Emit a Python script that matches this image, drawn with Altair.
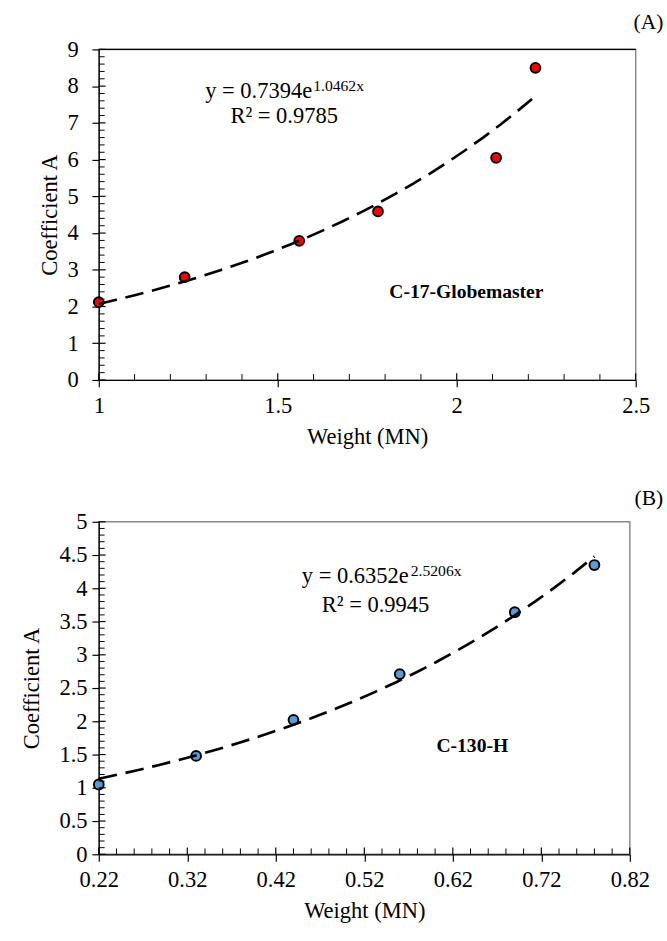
import altair as alt
import pandas as pd

FONT = "Liberation Serif"

# ---------------- data ----------------
# Panel (A) C-17-Globemaster
a_weight = [1.00, 1.24, 1.56, 1.78, 2.11, 2.22]
a_coef = [2.12, 2.80, 3.79, 4.59, 6.05, 8.50]
a_xticks = [1, 1.5, 2, 2.5]
a_yticks = [0, 1, 2, 3, 4, 5, 6, 7, 8, 9]
a_xminor = [1.1, 1.2, 1.3, 1.4, 1.6, 1.7, 1.8, 1.9, 2.1, 2.2, 2.3, 2.4]
a_yminor = [round(0.2 * i, 1) for i in range(1, 45) if i % 5 != 0]

# Panel (B) C-130-H
b_weight = [0.22, 0.33, 0.44, 0.56, 0.69, 0.78]
b_coef = [1.05, 1.48, 2.02, 2.71, 3.64, 4.35]
b_xticks = [0.22, 0.32, 0.42, 0.52, 0.62, 0.72, 0.82]
b_yticks = [0, 0.5, 1, 1.5, 2, 2.5, 3, 3.5, 4, 4.5, 5]
b_xminor = [round(0.22 + 0.02 * i, 2) for i in range(1, 30) if i % 5 != 0]
b_yminor = [round(0.1 * i, 1) for i in range(1, 50) if i % 5 != 0]


def panel(weights, coefs, color, xdom, ydom, xticks, yticks, xminor, yminor,
          w, h, eq_main, eq_sup, r2, label, eq_pos, sup_pos, r2_pos, lab_pos,
          tag, tag_offset, xfmt, ylabpad, ytitlepad, top_black):
    df = pd.DataFrame({"w": weights, "c": coefs})
    xsc = alt.Scale(domain=xdom, nice=False, zero=False)
    ysc = alt.Scale(domain=ydom, nice=False, zero=False)
    common = dict(grid=False, tickSize=7, labelFont=FONT, titleFont=FONT,
                  labelFontSize=23, titleFontSize=23, titleFontWeight="normal",
                  labelColor="black", titleColor="black",
                  domainColor="black", tickColor="black",
                  domainWidth=1.2, tickWidth=1.2)
    xax = alt.Axis(values=xticks, title="Weight (MN)",
                   labelExpr="format(datum.value, '%s')" % xfmt,
                   labelPadding=8, titlePadding=9, labelFlush=False, **common)
    yax = alt.Axis(values=yticks, title="Coefficient A",
                   labelExpr="format(datum.value, '~g')",
                   labelPadding=ylabpad, titlePadding=ytitlepad, **common)

    def X():
        return alt.X("w:Q", scale=xsc, axis=xax, title="Weight (MN)")

    def Y():
        return alt.Y("c:Q", scale=ysc, axis=yax, title="Coefficient A")

    pts = alt.Chart(df).mark_circle(size=100, color=color, stroke="black",
                                    strokeWidth=2, opacity=1).encode(x=X(), y=Y())
    trend = alt.Chart(df).transform_regression(
        "w", "c", method="exp"
    ).mark_line(color="black", strokeDash=[19, 9], strokeWidth=2.7).encode(
        x=X(), y=Y())

    ymin_r = alt.Chart(pd.DataFrame({"c": yminor})).mark_rule(
        color="black", strokeWidth=1).encode(y=Y(), x=alt.value(0), x2=alt.value(6))
    ymaj_r = alt.Chart(pd.DataFrame({"c": yticks})).mark_rule(
        color="black", strokeWidth=1.2).encode(y=Y(), x=alt.value(0), x2=alt.value(7))
    xmin_r = alt.Chart(pd.DataFrame({"w": xminor})).mark_rule(
        color="black", strokeWidth=1).encode(x=X(), y=alt.value(h), y2=alt.value(h - 6))
    xmaj_r = alt.Chart(pd.DataFrame({"w": xticks})).mark_rule(
        color="black", strokeWidth=1.2).encode(x=X(), y=alt.value(h), y2=alt.value(h - 7))

    def txt(pos, t, size, align, weight="normal"):
        d = pd.DataFrame({"w": [pos[0]], "c": [pos[1]], "t": [t]})
        return alt.Chart(d).mark_text(font=FONT, fontSize=size, align=align,
                                      baseline="middle", color="black",
                                      fontWeight=weight).encode(
            x=X(), y=Y(), text="t:N")

    layers = [pts, ymin_r, ymaj_r, xmin_r, xmaj_r, trend,
              txt(eq_pos, eq_main, 23, "right"),
              txt(sup_pos, eq_sup, 16, "left"),
              txt(r2_pos, r2, 23, "center"),
              txt(lab_pos, label, 20, "center", "bold")]
    if top_black:
        layers.append(alt.Chart(pd.DataFrame({"c": [ydom[1]]})).mark_rule(
            color="black", strokeWidth=1.2).encode(y=Y()))
    return alt.layer(*layers).properties(
        width=w, height=h,
        title=alt.TitleParams(tag, anchor="end", font=FONT, fontSize=22,
                              fontWeight="normal", color="black", dx=14,
                              offset=tag_offset),
    )


pa = panel(a_weight, a_coef, "#FF0000", [1, 2.5], [0, 9], a_xticks, a_yticks,
           a_xminor, a_yminor, 549, 338,
           "y = 0.7394e", "1.0462x", "R² = 0.9785", "C-17-Globemaster",
           (1.596, 7.85), (1.599, 8.01), (1.518, 7.19), (2.027, 2.40),
           "(A)", 5, "~g", 14, 6, True)
pb = panel(b_weight, b_coef, "#5B9BD5", [0.22, 0.82], [0, 5], b_xticks, b_yticks,
           b_xminor, b_yminor, 543, 340,
           "y = 0.6352e", "2.5206x", "R² = 0.9945", "C-130-H",
           (0.5703, 4.176), (0.5725, 4.26), (0.5327, 3.75), (0.642, 1.62),
           "(B)", 1, ".2f", 5, 16, False)

chart = alt.vconcat(pa, pb, spacing=38).properties(
    padding={"left": 20, "top": 0, "right": 2, "bottom": 2}
).configure_view(
    stroke="#8a8a8a", strokeWidth=1.5
).configure_axis(
    labelFont=FONT, titleFont=FONT, labelColor="black", titleColor="black",
    labelFontSize=23, titleFontSize=23, titleFontWeight="normal",
)

chart.save("out.html", embed_options={"renderer": "svg", "actions": False})
